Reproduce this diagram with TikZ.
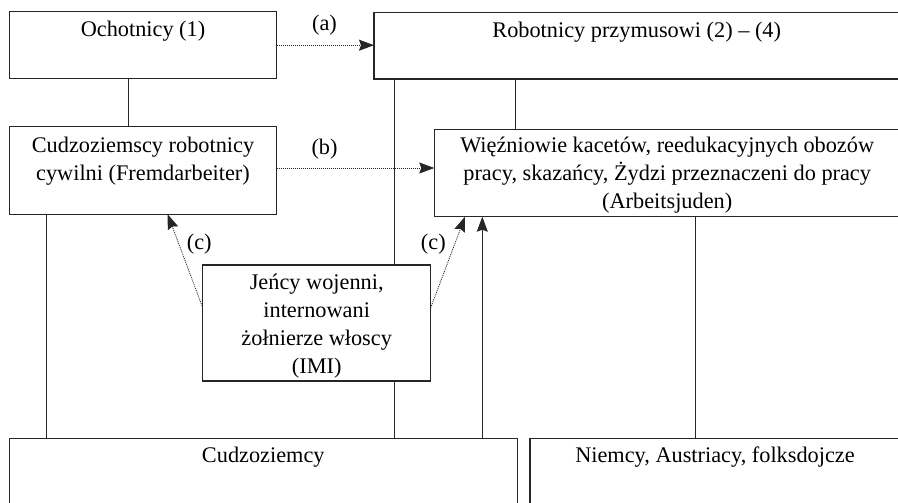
\documentclass[tikz,border=0pt]{standalone}
\usepackage{fontspec}
\setmainfont{Liberation Serif}
\usetikzlibrary{arrows.meta}
\begin{document}
\begin{tikzpicture}[x=1pt,y=-1pt,
  box/.style={draw=black!85, line width=1.1pt, fill=white, rectangle, inner sep=0pt, outer sep=0pt, anchor=north west},
  txt/.style={inner sep=0pt, font=\fontsize{22.3}{28}\selectfont, align=center, text=black},
  conn/.style={draw=black!85, line width=1pt},
  dotarrow/.style={draw=black!85, line width=0.8pt, dash pattern=on 1pt off 1pt, -{Stealth[length=15pt,width=11pt,inset=2pt]}},
  solarrow/.style={draw=black!85, line width=1pt, -{Stealth[length=15pt,width=11pt,inset=2pt]}}]
\useasboundingbox (0,0) rectangle (898,503);
\clip (0,0) rectangle (898,503);
\fill[white] (0,0) rectangle (898,503);

% boxes
\node[box, minimum width=267.4pt, minimum height=67pt] (och) at (9.3,11.7) {};
\node[box, minimum width=267.4pt, minimum height=87.6pt] (crb) at (9.3,126.7) {};
\node[box, minimum width=526pt, minimum height=66.7pt] (rob) at (374,12.3) {};
\node[box, minimum width=465.7pt, minimum height=87.4pt] (wie) at (434.3,129.3) {};
\node[box, minimum width=508pt, minimum height=90pt] (cud) at (9.3,438.7) {};
\node[box, minimum width=370pt, minimum height=90pt] (nie) at (530,438.3) {};

% connectors
\draw[conn] ([xshift=-15pt]och.south) -- ([xshift=-15pt]och.south |- crb.north);
\draw[conn] ([xshift=37.4pt]crb.south west) -- ([xshift=37.4pt]crb.south west |- cud.north);
\draw[conn] ([xshift=141.7pt]rob.south west) -- ([xshift=141.7pt]rob.south west |- wie.north);
\draw[conn] ([xshift=260.7pt]wie.south west) -- ([xshift=260.7pt]wie.south west |- nie.north);
\draw[solarrow] ([xshift=473pt]cud.north west) -- ([xshift=473pt]cud.north west |- wie.south);

% prisoners box (drawn over the long line)
\node[box, minimum width=228pt, minimum height=116pt] (jen) at (202.7,265) {};
\draw[conn] ([xshift=20.3pt]rob.south west) -- ([xshift=20.3pt]rob.south west |- jen.north);
\draw[conn] ([xshift=20.3pt]rob.south west |- jen.south) -- ([xshift=20.3pt]rob.south west |- cud.north);

% dotted arrows
\draw[dotarrow] (och.east) -- (och.east -| rob.west);
\draw[dotarrow] ([yshift=2.5pt]crb.east) -- ([yshift=2.5pt]crb.east -| wie.west);
\draw[dotarrow] ([yshift=15.3pt]jen.west) -- ([xshift=158.4pt]crb.south west);
\draw[dotarrow] ([yshift=15.3pt]jen.east) -- ([xshift=30.7pt]wie.south west);

% texts
\node[txt, anchor=base] (ochT) at (143,36.7) {Ochotnicy (1)};
\node[txt, anchor=base] (robT) at (636.7,37.3) {Robotnicy przymusowi (2) – (4)};
\node[txt, anchor=north] (crbT) at (143,132.9) {\strut Cudzoziemscy robotnicy\\cywilni (Fremdarbeiter)};
\node[txt, anchor=north] (wieT) at (667.2,133.1) {\strut Więźniowie kacetów, reedukacyjnych obozów\\pracy, skazańcy, Żydzi przeznaczeni do pracy\\(Arbeitsjuden)};
\node[txt, anchor=north] (jenT) at (316.7,269.7) {\strut Jeńcy wojenni,\\internowani\\żołnierze włoscy\\(IMI)};
\node[txt, anchor=base] (cudT) at (263.3,462.7) {Cudzoziemcy};
\node[txt, anchor=base] (nieT) at (715,462.3) {Niemcy, Austriacy, folksdojcze};

% arrow labels
\node[txt, anchor=base] (la) at (324.5,30.7) {(a)};
\node[txt, anchor=base] (lb) at (324.5,154) {(b)};
\node[txt, anchor=base] (lc1) at (199.2,249) {(c)};
\node[txt, anchor=base] (lc2) at (433.3,249) {(c)};
\end{tikzpicture}
\end{document}
